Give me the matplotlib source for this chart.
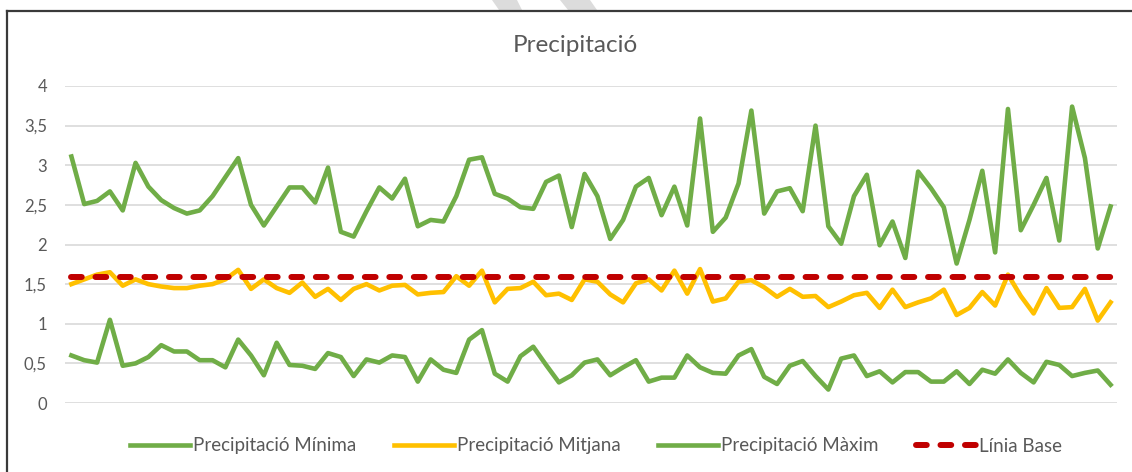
import matplotlib.pyplot as plt
from matplotlib.lines import Line2D
from matplotlib.patches import Polygon

# daily values (82 points)
precip_max = [3.11, 2.51, 2.55, 2.67, 2.43, 3.03, 2.73, 2.56, 2.46, 2.39, 2.43,
              2.61, 2.85, 3.09, 2.50, 2.24, 2.48, 2.72, 2.72, 2.53, 2.97,
              2.16, 2.10, 2.42, 2.72, 2.58, 2.83, 2.23, 2.31, 2.29, 2.61,
              3.07, 3.10, 2.64, 2.58, 2.47, 2.45, 2.79, 2.87, 2.22, 2.89,
              2.61, 2.07, 2.31, 2.73, 2.84, 2.37, 2.73, 2.24, 3.59, 2.16,
              2.34, 2.77, 3.69, 2.39, 2.67, 2.71, 2.42, 3.50, 2.23, 2.01,
              2.61, 2.88, 1.99, 2.29, 1.83, 2.92, 2.71, 2.47, 1.76, 2.31,
              2.93, 1.90, 3.71, 2.18, 2.50, 2.84, 2.05, 3.74, 3.09, 1.95, 2.48]
precip_mean = [1.50, 1.56, 1.62, 1.65, 1.48, 1.56, 1.50, 1.47, 1.45, 1.45, 1.48,
               1.50, 1.56, 1.68, 1.44, 1.56, 1.45, 1.39, 1.52, 1.34, 1.44,
               1.30, 1.44, 1.50, 1.42, 1.48, 1.49, 1.37, 1.39, 1.40, 1.60,
               1.48, 1.67, 1.27, 1.44, 1.45, 1.53, 1.36, 1.38, 1.30, 1.56,
               1.53, 1.37, 1.27, 1.51, 1.56, 1.42, 1.67, 1.38, 1.69, 1.28,
               1.32, 1.53, 1.55, 1.46, 1.34, 1.44, 1.34, 1.35, 1.21, 1.28,
               1.36, 1.39, 1.20, 1.43, 1.21, 1.27, 1.32, 1.43, 1.11, 1.20,
               1.40, 1.23, 1.62, 1.35, 1.13, 1.45, 1.20, 1.21, 1.44, 1.04, 1.27]
precip_min = [0.60, 0.54, 0.51, 1.05, 0.47, 0.50, 0.58, 0.73, 0.65, 0.65, 0.54,
              0.54, 0.45, 0.80, 0.60, 0.35, 0.76, 0.48, 0.47, 0.43, 0.63,
              0.58, 0.34, 0.55, 0.51, 0.60, 0.58, 0.27, 0.55, 0.42, 0.38,
              0.80, 0.92, 0.37, 0.27, 0.59, 0.71, 0.48, 0.26, 0.35, 0.51,
              0.55, 0.35, 0.45, 0.54, 0.27, 0.32, 0.32, 0.60, 0.45, 0.38,
              0.37, 0.60, 0.68, 0.33, 0.24, 0.47, 0.53, 0.34, 0.17, 0.56,
              0.60, 0.34, 0.40, 0.26, 0.39, 0.39, 0.27, 0.27, 0.40, 0.24,
              0.42, 0.37, 0.55, 0.38, 0.26, 0.52, 0.48, 0.34, 0.38, 0.41, 0.23]
base_value = 1.59

y_ticks = [0, 0.5, 1, 1.5, 2, 2.5, 3, 3.5, 4]
y_labels = ["0", "0,5", "1", "1,5", "2", "2,5", "3", "3,5", "4"]


def main():
    plt.rcParams["font.family"] = ["Lato", "DejaVu Sans"]
    text_color = "#595959"

    fig = plt.figure(figsize=(11.32, 4.72), dpi=100)
    ax = fig.add_axes([65 / 1132, 69 / 472, 1052 / 1132, 317 / 472])

    days = list(range(len(precip_max)))
    ax.plot(days, precip_min, color="#70AD47", lw=3.3,
            solid_joinstyle="round", label="Precipitació Mínima")
    ax.plot(days, precip_mean, color="#FFC000", lw=3.3,
            solid_joinstyle="round", label="Precipitació Mitjana")
    ax.plot(days, precip_max, color="#70AD47", lw=3.3,
            solid_joinstyle="round", label="Precipitació Màxim")
    ax.plot(days, [base_value] * len(days), color="#C00000", lw=4.3,
            ls=(0, (1.8, 2.3)), dash_capstyle="round", label="Línia Base")

    ax.set_xlim(-0.5, len(days) - 0.5)
    ax.set_ylim(0, 4)
    ax.set_yticks(y_ticks)
    ax.set_yticklabels(y_labels)
    ax.set_xticks([])
    ax.tick_params(axis="y", length=0, pad=13, labelsize=12,
                   labelcolor=text_color)
    ax.grid(axis="y", color="#D9D9D9", lw=1.2)
    ax.set_axisbelow(True)
    for s in ax.spines.values():
        s.set_visible(False)

    fig.text(575 / 1132, 1 - 45 / 472, "Precipitació", ha="center",
             va="center", fontsize=17.5, color=text_color)

    fig.legend(loc="center", bbox_to_anchor=(596 / 1132, 1 - 446 / 472),
               ncol=4, frameon=False, fontsize=13.5, handlelength=3.2,
               handletextpad=0.15, columnspacing=2.0, labelcolor=text_color)

    # frame of the document around the chart
    fig.add_artist(Line2D([7 / 1132, 7 / 1132], [0, 1 - 11 / 472],
                          transform=fig.transFigure, color="#3A3A3A", lw=1.6))
    fig.add_artist(Line2D([7 / 1132, 1], [1 - 11 / 472, 1 - 11 / 472],
                          transform=fig.transFigure, color="#3A3A3A", lw=1.6))
    # grey watermark strokes above the frame
    for xs in ([492, 517, 522, 499], [560, 590, 597, 568]):
        pts = [(xs[0] / 1132, 1), (xs[1] / 1132, 1),
               (xs[2] / 1132, 1 - 10 / 472), (xs[3] / 1132, 1 - 10 / 472)]
        fig.add_artist(Polygon(pts, closed=True, transform=fig.transFigure,
                               color="#DCDCDC", lw=0))

    fig.savefig("out.png", dpi=100)


if __name__ == "__main__":
    main()
